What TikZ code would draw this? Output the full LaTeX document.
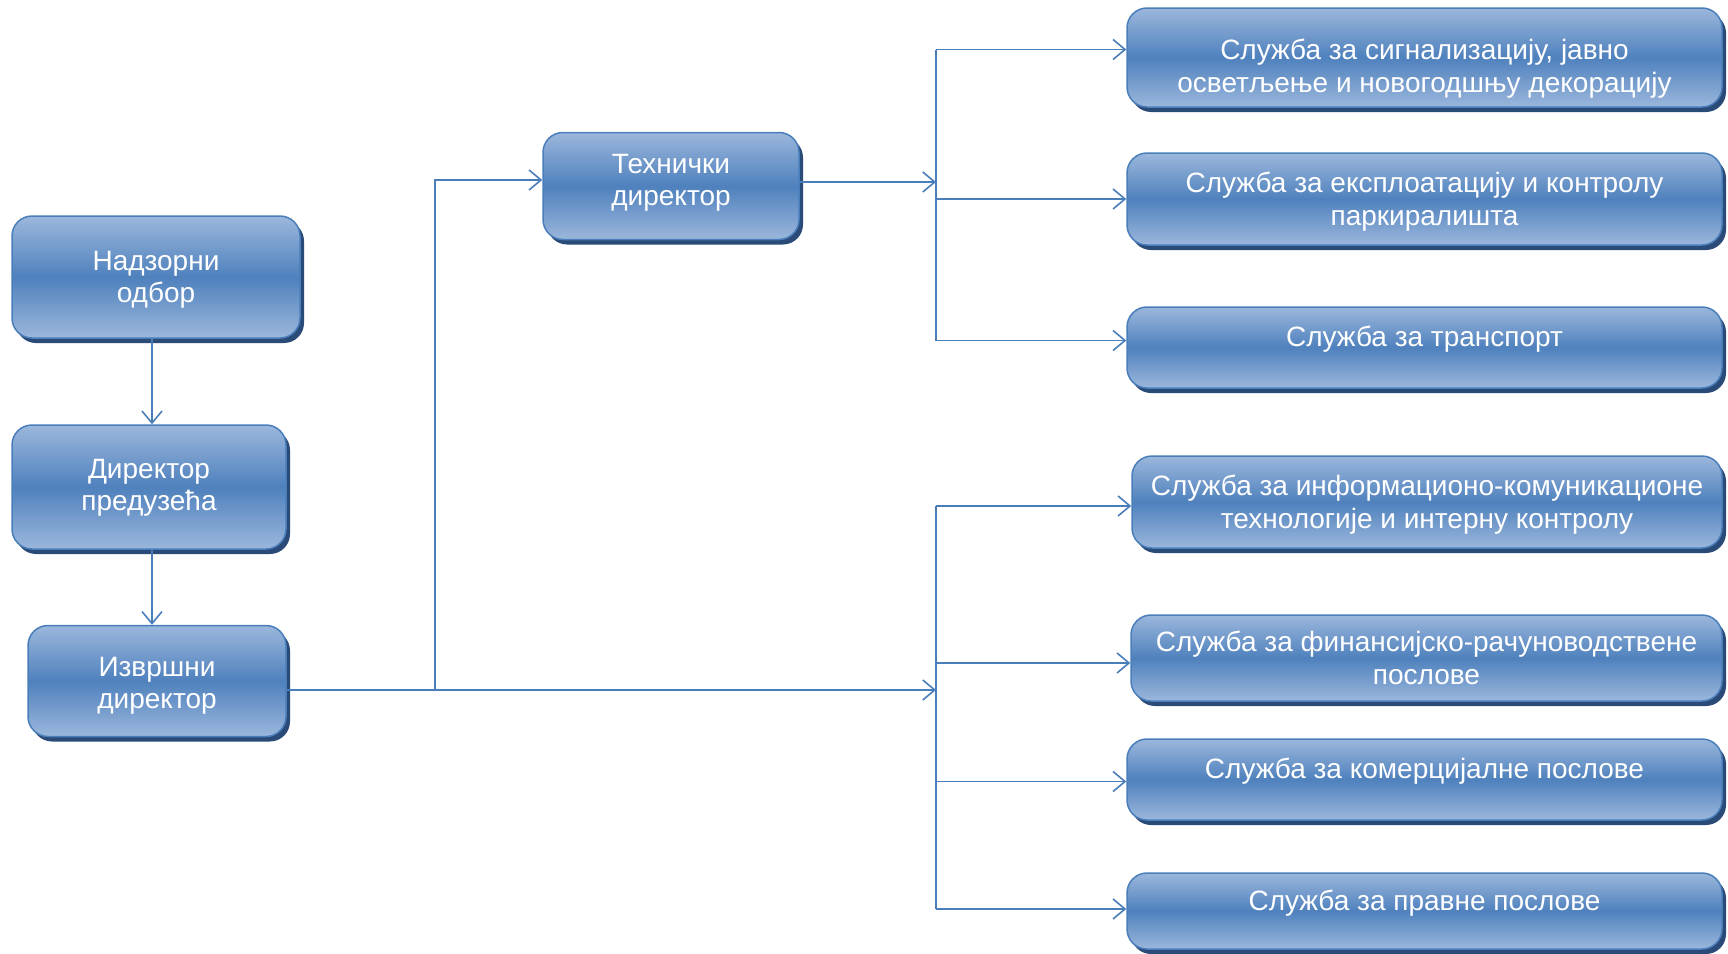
\documentclass[tikz,border=0pt]{standalone}
\usepackage{fontspec}
\setmainfont{Liberation Sans}
\usetikzlibrary{arrows.meta,shadows}
\definecolor{boxlight}{HTML}{9BB7DC}
\definecolor{boxmid}{HTML}{4F81BD}
\definecolor{boxedge}{HTML}{4A7EBB}
\definecolor{shadowc}{HTML}{2A4A78}
\definecolor{linec}{HTML}{4A7EBB}
\newcommand{\shiftup}[2]{\raisebox{#1}[\height][\depth]{\begin{tabular}{@{}c@{}}#2\end{tabular}}}
\begin{document}
\begin{tikzpicture}[x=1pt,y=-1pt,
  box/.style={draw=boxedge, line width=1.5pt, rounded corners=20pt,
    top color=boxlight, bottom color=boxlight, middle color=boxmid,
    drop shadow={shadow xshift=4pt, shadow yshift=-5pt, fill=shadowc, opacity=1},
    text=white, align=center, inner sep=0pt},
  leftbox/.style={box, font=\fontsize{28}{32}\selectfont},
  rightbox/.style={box, font=\fontsize{28}{33}\selectfont, minimum width=595pt},
  conn/.style={draw=linec, line width=1.6pt},
  arr/.style={conn, -{Straight Barb[length=12pt,width=20pt]}}
]
\useasboundingbox (0,0) rectangle (1728,953);

\node[leftbox, minimum width=288pt, minimum height=122pt] (A) at (156,277) {\shiftup{-3pt}{Надзорни\\одбор}};
\node[leftbox, minimum width=274pt, minimum height=124pt] (B) at (149,487) {\shiftup{-1.5pt}{Директор\\предузећа}};
\node[leftbox, minimum width=258pt, minimum height=111pt] (C) at (157,681) {\shiftup{-5pt}{Извршни\\директор}};
\node[leftbox, minimum width=256pt, minimum height=107pt] (D) at (671,186) {\shiftup{3pt}{Технички\\директор}};

\node[rightbox, minimum height=99pt] (R1) at (1424.5,57.5) {\shiftup{-12pt}{Служба за сигнализацију, јавно\\осветљење и новогодшњу декорацију}};
\node[rightbox, minimum height=92pt] (R2) at (1424.5,199) {\shiftup{-3pt}{Служба за експлоатацију и контролу\\паркиралишта}};
\node[rightbox, minimum height=81pt] (R3) at (1424.5,347.5) {\shiftup{8pt}{Служба за транспорт}};
\node[rightbox, minimum width=590pt, minimum height=92pt] (R4) at (1427,502) {\shiftup{-3pt}{Служба за информационо-комуникационе\\технологије и интерну контролу}};
\node[rightbox, minimum width=591pt, minimum height=86pt] (R5) at (1426.5,658) {\shiftup{-3pt}{Служба за финансијско-рачуноводствене\\послове}};
\node[rightbox, minimum height=81pt] (R6) at (1424.5,779.5) {\shiftup{8pt}{Служба за комерцијалне послове}};
\node[rightbox, minimum height=76pt] (R7) at (1424.5,911) {\shiftup{7pt}{Служба за правне послове}};

\coordinate (ub) at (936,0);
\coordinate (vx) at (435,0);
\coordinate (lx) at (152,0);
\coordinate (c1) at ([yshift=-9pt]C.east);
\coordinate (dw) at ([yshift=6pt]D.west);
\coordinate (de) at ([yshift=4pt]D.east);

\draw[arr] (A.south -| lx) -- (lx |- B.north);
\draw[arr] (B.south -| lx) -- (lx |- C.north);
\draw[arr] (c1) -| (vx |- dw) -- (dw);
\draw[arr] (c1) -- (c1 -| ub);
\draw[arr] (de) -- (de -| ub);

\foreach \r/\s in {R1/8,R2/0,R3/7,R4/-4,R5/-5,R6/-2,R7/2}
  \coordinate (\r b) at ([yshift=\s pt]\r.west);
\draw[conn] (R1b -| ub) -- (R3b -| ub);
\draw[conn] (R4b -| ub) -- (R7b -| ub);
\foreach \r in {R1,R2,R3,R4,R5,R6,R7}
  \draw[arr] (\r b -| ub) -- (\r b);
\end{tikzpicture}
\end{document}
